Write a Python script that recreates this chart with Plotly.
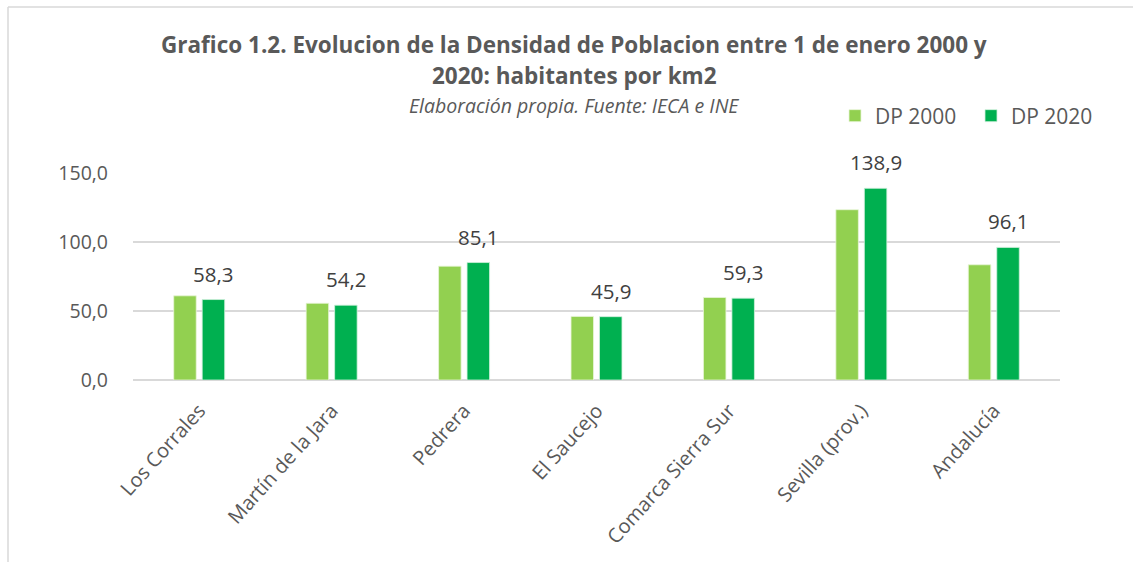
import plotly.graph_objects as go

categories = ["Los Corrales", "Martín de la Jara", "Pedrera", "El Saucejo",
              "Comarca Sierra Sur", "Sevilla (prov.)", "Andalucía"]
dp2000 = [61.0, 55.6, 82.5, 46.1, 59.8, 123.4, 83.5]
dp2020 = [58.3, 54.2, 85.1, 45.9, 59.3, 138.9, 96.1]
yticks = [0, 50, 100, 150]
ytick_labels = ["0,0", "50,0", "100,0", "150,0"]

FONT = "Open Sans"
GRAY = "#595959"
DARK = "#404040"

W, H = 1133, 562
L, R, T, B = 133, 73, 173, 182
pw, ph = W - L - R, H - T - B
BARGAP, GROUPGAP = 0.57, 0.21
slot_px = pw / len(categories) * (1 - BARGAP) / 2


def px_x(x):
    return (x - L) / pw


def px_y(y):
    return (H - B - y) / ph


fig = go.Figure()
fig.add_trace(go.Bar(name="DP 2000", x=categories, y=dp2000,
                     marker=dict(color="#92D050", line=dict(color="#E8F5D8", width=0.8))))
fig.add_trace(go.Bar(name="DP 2020", x=categories, y=dp2020,
                     marker=dict(color="#00B050", line=dict(color="#D0F0DC", width=0.8))))

annotations = [
    dict(text="<b>Grafico 1.2. Evolucion de la Densidad de Poblacion entre 1 de enero 2000 y</b>",
         x=px_x(574), y=px_y(45), xref="paper", yref="paper", showarrow=False,
         font=dict(family=FONT, size=22.5, color=GRAY), xanchor="center", yanchor="middle"),
    dict(text="<b>2020: habitantes por km2</b>",
         x=px_x(574), y=px_y(76), xref="paper", yref="paper", showarrow=False,
         font=dict(family=FONT, size=22.5, color=GRAY), xanchor="center", yanchor="middle"),
    dict(text="<i>Elaboración propia. Fuente: IECA e INE</i>",
         x=px_x(574), y=px_y(106), xref="paper", yref="paper", showarrow=False,
         font=dict(family=FONT, size=19.5, color=GRAY), xanchor="center", yanchor="middle"),
]
for c, v in zip(categories, dp2020):
    annotations.append(dict(
        text=f"{v:.1f}".replace(".", ","), x=c, y=v, xref="x", yref="y",
        showarrow=False, xanchor="center", yanchor="bottom",
        xshift=slot_px / 2, yshift=10,
        font=dict(family=FONT, size=20.5, color=DARK)))

fig.update_layout(
    width=W, height=H,
    margin=dict(l=L, r=R, t=T, b=B),
    paper_bgcolor="white", plot_bgcolor="white",
    barmode="group", bargap=BARGAP, bargroupgap=GROUPGAP,
    font=dict(family=FONT, color=GRAY),
    showlegend=True,
    legend=dict(orientation="h", x=px_x(835), y=px_y(116), xanchor="left", yanchor="middle",
                font=dict(family=FONT, size=21, color=GRAY),
                entrywidth=91, entrywidthmode="pixels",
                tracegroupgap=0, bgcolor="rgba(0,0,0,0)"),
    xaxis=dict(tickangle=-48, tickfont=dict(family=FONT, size=20, color=GRAY),
               showgrid=False, showline=False, ticks="", ticklabelstandoff=14),
    yaxis=dict(range=[0, 150], tickvals=yticks, ticktext=ytick_labels,
               tickfont=dict(family=FONT, size=19.5, color=GRAY),
               showgrid=True, gridcolor="#D9D9D9", gridwidth=1.5,
               zeroline=True, zerolinecolor="#D9D9D9", zerolinewidth=1.5,
               ticks="", ticklabelstandoff=24),
    annotations=annotations,
    shapes=[
        dict(type="line", xref="paper", yref="paper", x0=px_x(8), x1=px_x(8),
             y0=px_y(7), y1=px_y(562), line=dict(color="#D9D9D9", width=1.5)),
        dict(type="line", xref="paper", yref="paper", x0=px_x(8), x1=px_x(1133),
             y0=px_y(7), y1=px_y(7), line=dict(color="#D9D9D9", width=1.5)),
    ],
)

fig.write_html("out.html", config={"displayModeBar": False},
               post_script="document.body.style.margin='0';")
